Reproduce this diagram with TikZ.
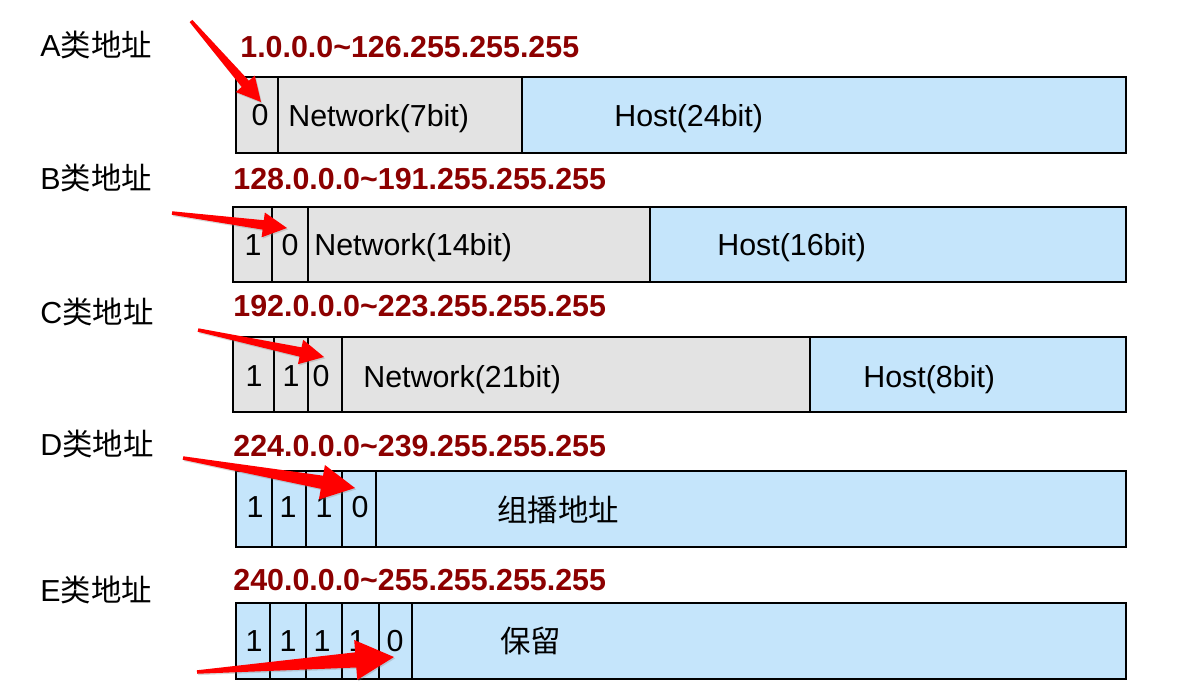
\documentclass[tikz,border=0pt]{standalone}
\usepackage{fontspec}
\setmainfont{Liberation Sans}
\newfontfamily\cjk{Noto Sans CJK SC}
\usetikzlibrary{calc,shadows}
\definecolor{cellgray}{RGB}{227,227,227}
\definecolor{cellblue}{RGB}{197,229,251}
\definecolor{rangered}{RGB}{140,0,0}
% tapered red pointer: [size]{tail}{tip}
\newcommand{\redarrow}[3][1]{%
	\pgfmathsetmacro\arlen{0.48*#1}\pgfmathsetmacro\arhead{0.25*#1}\pgfmathsetmacro\arshaft{0.095*#1}
	\coordinate (hb) at ($(#3)!\arlen cm!(#2)$);
	\fill[arrowred] ($(#2)!0.035cm!90:(#3)$) -- ($(hb)!\arshaft cm!90:(#3)$) -- ($(hb)!\arhead cm!90:(#3)$) -- (#3)
		-- ($(hb)!\arhead cm!-90:(#3)$) -- ($(hb)!\arshaft cm!-90:(#3)$) -- ($(#2)!0.035cm!-90:(#3)$) -- cycle;}
\begin{document}
\begin{tikzpicture}[x=0.02cm,y=-0.02cm,
	every node/.style={inner sep=0,font=\fontsize{17.3}{20}\selectfont},
	txt/.style={anchor=west},
	btxt/.style={anchor=base west},
	rng/.style={anchor=west,text=rangered,font=\fontsize{17.3}{20}\selectfont\bfseries},
	netcell/.style={fill=cellgray},
	hostcell/.style={fill=cellblue},
	boxline/.style={draw=black,line width=1.1pt},
	arrowred/.style={fill=red,drop shadow={opacity=0.3,shadow xshift=0.6pt,shadow yshift=-0.8pt}}]
	\useasboundingbox (0,0) rectangle (1178,698);
	% A
	\node[txt] (alabel) at (40,45){A{\cjk 类地址}};
	\node[rng] (arange) at (240,47){1.0.0.0\char`~126.255.255.255};
	\fill[netcell] (236,77) rectangle (522,153);
	\fill[hostcell] (522,77) rectangle (1126,153);
	\draw[boxline] (236,77) rectangle (1126,153);
	\foreach \x in {278,522} \draw[boxline] (\x,77)--(\x,153);
	\node (a0) at (260,115){0};
	\node[btxt] (anet) at (288,126){Network(7bit)};
	\node[btxt] (ahost) at (614,126){Host(24bit)};
	% B
	\node[txt] (blabel) at (40,178){B{\cjk 类地址}};
	\node[rng] (brange) at (233,179){128.0.0.0\char`~191.255.255.255};
	\fill[netcell] (233,207) rectangle (650,282);
	\fill[hostcell] (650,207) rectangle (1126,282);
	\draw[boxline] (233,207) rectangle (1126,282);
	\foreach \x in {272,308,650} \draw[boxline] (\x,207)--(\x,282);
	\node (b1) at (253,245){1};
	\node (b0) at (290,245){0};
	\node[btxt] (bnet) at (314,255){Network(14bit)};
	\node[btxt] (bhost) at (717,255){Host(16bit)};
	% C
	\node[txt] (clabel) at (40,312){C{\cjk 类地址}};
	\node[rng] (crange) at (233,306){192.0.0.0\char`~223.255.255.255};
	\fill[netcell] (233,337) rectangle (810,412);
	\fill[hostcell] (810,337) rectangle (1126,412);
	\draw[boxline] (233,337) rectangle (1126,412);
	\foreach \x in {274,308,342,810} \draw[boxline] (\x,337)--(\x,412);
	\node (c1) at (254,376){1};
	\node (c2) at (291,376){1};
	\node (c0) at (321,376){0};
	\node[btxt] (cnet) at (363,387){Network(21bit)};
	\node[btxt] (chost) at (863,387){Host(8bit)};
	% D
	\node[txt] (dlabel) at (40,444){D{\cjk 类地址}};
	\node[rng] (drange) at (233,446){224.0.0.0\char`~239.255.255.255};
	\fill[hostcell] (236,471) rectangle (1126,547);
	\draw[boxline] (236,471) rectangle (1126,547);
	\foreach \x in {272,306,342,376} \draw[boxline] (\x,471)--(\x,547);
	\node (d1) at (255,507){1};
	\node (d2) at (288,507){1};
	\node (d3) at (324,507){1};
	\node (d0) at (360,507){0};
	\node[txt] (dmulti) at (497,510){\cjk 组播地址};
	% E
	\node[txt] (elabel) at (40,590){E{\cjk 类地址}};
	\node[rng] (erange) at (233,580){240.0.0.0\char`~255.255.255.255};
	\fill[hostcell] (236,603) rectangle (1126,679);
	\draw[boxline] (236,603) rectangle (1126,679);
	\foreach \x in {270,306,342,379,412} \draw[boxline] (\x,603)--(\x,679);
	\node (e1) at (254,641){1};
	\node (e2) at (288,641){1};
	\node (e3) at (322,641){1};
	\node (e4) at (357,641){1};
	\node (e0) at (395,641){0};
	\node[txt] (ereserved) at (500,641){\cjk 保留};
	% pointers
	\coordinate (atail) at (191,21); \coordinate (atip) at (261,102);
	\coordinate (btail) at (172,213); \coordinate (btip) at (287,228);
	\coordinate (ctail) at (198,330); \coordinate (ctip) at (324,357);
	\coordinate (dtail) at (183,458); \coordinate (dtip) at (355,488);
	\coordinate (etail) at (197,672); \coordinate (etip) at (394,657);
	\redarrow{atail}{atip}
	\redarrow{btail}{btip}
	\redarrow{ctail}{ctip}
	\redarrow[1.4]{dtail}{dtip}
	\redarrow[1.6]{etail}{etip}
\end{tikzpicture}
\end{document}
